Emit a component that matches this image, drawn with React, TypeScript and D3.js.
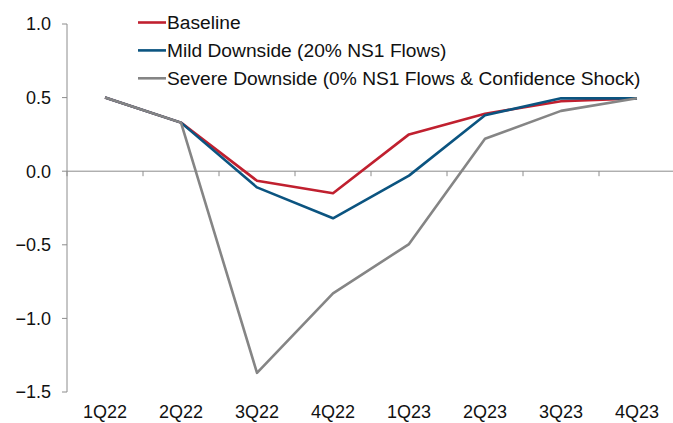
import React from "react";
import * as d3 from "d3";

const categories = ["1Q22", "2Q22", "3Q22", "4Q22", "1Q23", "2Q23", "3Q23", "4Q23"];
const baseline = [0.5, 0.33, -0.065, -0.15, 0.25, 0.39, 0.475, 0.495];
const mild = [0.5, 0.33, -0.11, -0.32, -0.03, 0.38, 0.495, 0.495];
const severe = [0.5, 0.33, -1.37, -0.83, -0.495, 0.22, 0.41, 0.495];
const yTicks = [1.0, 0.5, 0.0, -0.5, -1.0, -1.5];
const seriesNames = [
  "Baseline",
  "Mild Downside (20% NS1 Flows)",
  "Severe Downside (0% NS1 Flows & Confidence Shock)",
];

const W = 673;
const H = 423;
const FONT = "'Liberation Sans', Arial, sans-serif";

export default function App() {
  const x = d3.scaleBand<string>().domain(categories).range([67, 675]);
  const y = d3.scaleLinear().domain([-1.5, 1.0]).range([392, 24]);
  const line = d3
    .line<number>()
    .x((_, i) => (x(categories[i]) as number) + x.bandwidth() / 2)
    .y((d) => y(d));

  const series = [
    { name: seriesNames[0], data: baseline, color: "#C0202F" },
    { name: seriesNames[1], data: mild, color: "#0B5480" },
    { name: seriesNames[2], data: severe, color: "#858585" },
  ];
  const axisColor = "#8c8c8c";
  const boundaries = categories.map((c) => x(c) as number).concat([x.range()[1]]);

  return (
    <svg
      width={W}
      height={H}
      style={{ position: "absolute", left: 0, top: 0, background: "#fff" }}
      fontFamily={FONT}
    >
      {/* y axis */}
      <line x1={67} x2={67} y1={y(1.0)} y2={y(-1.5)} stroke={axisColor} strokeWidth={1} />
      {yTicks.map((t) => (
        <g key={t}>
          <line x1={62} x2={67} y1={y(t)} y2={y(t)} stroke={axisColor} strokeWidth={1} />
          <text x={51} y={y(t)} dy="0.36em" textAnchor="end" fontSize={18} fill="#111">
            {d3.format(".1f")(t)}
          </text>
        </g>
      ))}
      {/* x axis at zero */}
      <line x1={67} x2={675} y1={y(0)} y2={y(0)} stroke={axisColor} strokeWidth={1} />
      {boundaries.map((b, i) => (
        <line key={i} x1={b} x2={b} y1={y(0)} y2={y(0) + 5} stroke={axisColor} strokeWidth={1} />
      ))}
      {categories.map((c) => (
        <text
          key={c}
          x={(x(c) as number) + x.bandwidth() / 2}
          y={418}
          textAnchor="middle"
          fontSize={18}
          fill="#111"
        >
          {c}
        </text>
      ))}
      {/* lines */}
      {series.map((s) => (
        <path
          key={s.name}
          d={line(s.data) as string}
          fill="none"
          stroke={s.color}
          strokeWidth={2.6}
          strokeLinejoin="round"
        />
      ))}
      {/* legend */}
      {series.map((s, i) => {
        const ly = 22.5 + i * 27.9;
        return (
          <g key={s.name}>
            <line x1={138} x2={166} y1={ly} y2={ly} stroke={s.color} strokeWidth={2.6} />
            <text x={167} y={ly} dy="0.36em" fontSize={19.2} fill="#111">
              {s.name}
            </text>
          </g>
        );
      })}
    </svg>
  );
}
